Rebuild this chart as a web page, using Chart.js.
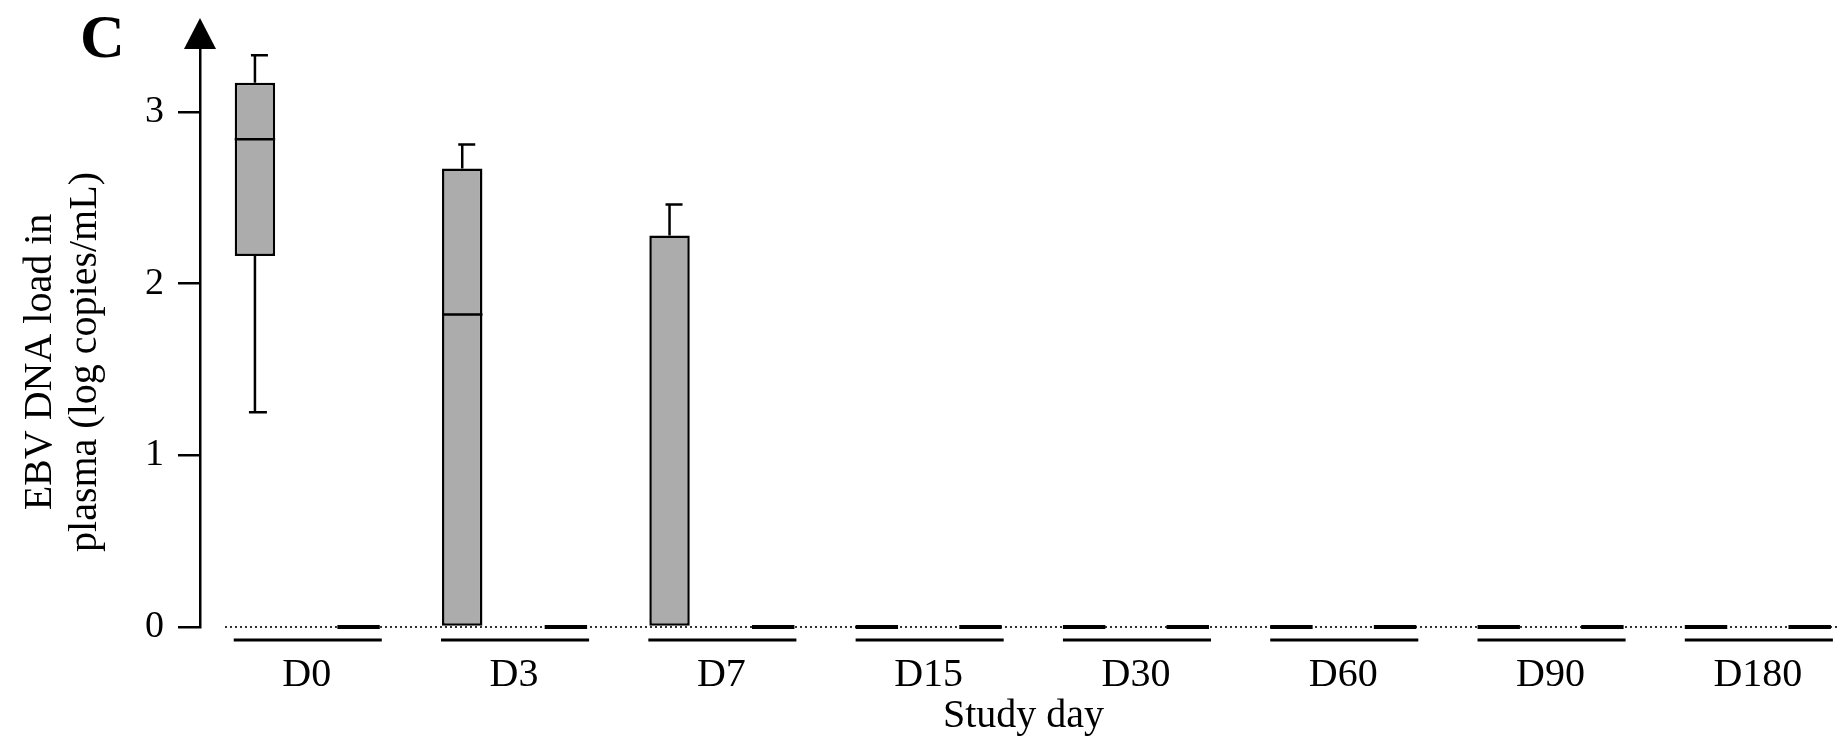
<!DOCTYPE html>
<html>
<head>
<meta charset="utf-8">
<script src="https://cdn.jsdelivr.net/npm/chart.js@4"></script>
<style>
  html, body { margin: 0; padding: 0; background: #fff; overflow: hidden; }
  #wrap { width: 1847px; height: 746px; position: relative; }
</style>
</head>
<body>
<div id="wrap"><canvas id="chart"></canvas></div>
<script>
const days = ['D0', 'D3', 'D7', 'D15', 'D30', 'D60', 'D90', 'D180'];

// left box of each pair
const g1Min    = [1.25, 0,    0,    0, 0, 0, 0, 0];
const g1Q1     = [2.16, 0,    0,    0, 0, 0, 0, 0];
const g1Median = [2.84, 1.82, 0,    0, 0, 0, 0, 0];
const g1Q3     = [3.17, 2.67, 2.28, 0, 0, 0, 0, 0];
const g1Max    = [3.33, 2.81, 2.46, 0, 0, 0, 0, 0];

// right box of each pair (all undetectable)
const g2Min    = [0, 0, 0, 0, 0, 0, 0, 0];
const g2Q1     = [0, 0, 0, 0, 0, 0, 0, 0];
const g2Median = [0, 0, 0, 0, 0, 0, 0, 0];
const g2Q3     = [0, 0, 0, 0, 0, 0, 0, 0];
const g2Max    = [0, 0, 0, 0, 0, 0, 0, 0];

const yTicks = [0, 1, 2, 3];

const serif = '"Liberation Serif", "Times New Roman", serif';
const boxFill = '#acacac';

function boxData(q1, q3) {
    return days.map((d, i) => ({ x: i, y: [q1[i], q3[i]] }));
}

// whiskers, medians, flat boxes, brackets, arrow and labels
const boxPlugin = {
    id: 'boxExtras',
    beforeDatasetsDraw(chart) {
        const ctx = chart.ctx;
        const area = chart.chartArea;
        const y0 = chart.scales.y.getPixelForValue(0);
        ctx.save();
        ctx.strokeStyle = '#333';
        ctx.lineWidth = 2;
        ctx.setLineDash([2, 3]);
        ctx.beginPath();
        ctx.moveTo(area.left + 25, y0);
        ctx.lineTo(area.right - 8, y0);
        ctx.stroke();
        ctx.restore();
    },
    afterDatasetsDraw(chart) {
        const ctx = chart.ctx;
        const yScale = chart.scales.y;
        const px = v => yScale.getPixelForValue(v);
        ctx.save();
        ctx.strokeStyle = '#000';
        ctx.lineCap = 'butt';

        chart.data.datasets.forEach((ds, di) => {
            const meta = chart.getDatasetMeta(di);
            const s = ds.stats;
            meta.data.forEach((bar, i) => {
                const cx = bar.x;
                const half = bar.width / 2;
                ctx.lineWidth = 2.5;
                // upper whisker
                if (s.max[i] > s.q3[i]) {
                    ctx.beginPath();
                    ctx.moveTo(cx, px(s.q3[i]));
                    ctx.lineTo(cx, px(s.max[i]));
                    ctx.moveTo(cx - 4, px(s.max[i]));
                    ctx.lineTo(cx + 13, px(s.max[i]));
                    ctx.stroke();
                }
                // lower whisker
                if (s.min[i] < s.q1[i]) {
                    ctx.beginPath();
                    ctx.moveTo(cx, px(s.q1[i]));
                    ctx.lineTo(cx, px(s.min[i]));
                    ctx.moveTo(cx - 6, px(s.min[i]));
                    ctx.lineTo(cx + 12, px(s.min[i]));
                    ctx.stroke();
                }
                if (s.q3[i] === s.q1[i]) {
                    // collapsed box
                    ctx.lineWidth = 4;
                    ctx.beginPath();
                    ctx.moveTo(cx - half - 1, px(s.q1[i]));
                    ctx.lineTo(cx + half + 1, px(s.q1[i]));
                    ctx.stroke();
                } else if (s.median[i] > s.q1[i]) {
                    ctx.beginPath();
                    ctx.moveTo(cx - half, px(s.median[i]));
                    ctx.lineTo(cx + half, px(s.median[i]));
                    ctx.stroke();
                }
            });
        });

        // group brackets under each study day
        const left = chart.getDatasetMeta(0).data;
        const right = chart.getDatasetMeta(1).data;
        const yb = px(0) + 13;
        ctx.lineWidth = 3;
        left.forEach((bar, i) => {
            ctx.beginPath();
            ctx.moveTo(bar.x - bar.width / 2 - 1, yb);
            ctx.lineTo(right[i].x + right[i].width / 2 + 3, yb);
            ctx.stroke();
        });
        ctx.restore();
    },
    afterDraw(chart) {
        const ctx = chart.ctx;
        const area = chart.chartArea;
        ctx.save();
        // arrow on the y axis
        ctx.fillStyle = '#000';
        ctx.beginPath();
        ctx.moveTo(area.left, area.top - 32);
        ctx.lineTo(area.left - 16, area.top - 1);
        ctx.lineTo(area.left + 16, area.top - 1);
        ctx.closePath();
        ctx.fill();

        // panel letter
        ctx.font = 'bold 62px ' + serif;
        ctx.textAlign = 'left';
        ctx.textBaseline = 'alphabetic';
        ctx.fillText('C', 80, 57);

        // y axis title, two lines
        ctx.font = '40px ' + serif;
        ctx.textAlign = 'center';
        ctx.textBaseline = 'middle';
        ctx.translate(0, 362);
        ctx.rotate(-Math.PI / 2);
        ctx.fillText('EBV DNA load in', 0, 40);
        ctx.fillText('plasma (log copies/mL)', 0, 85);
        ctx.restore();
    }
};

new Chart(document.getElementById('chart'), {
    type: 'bar',
    data: {
        datasets: [
            {
                label: 'Group 1',
                data: boxData(g1Q1, g1Q3),
                stats: { min: g1Min, q1: g1Q1, median: g1Median, q3: g1Q3, max: g1Max },
                backgroundColor: boxFill,
                borderColor: '#000',
                borderWidth: 2.5,
                borderSkipped: false,
                categoryPercentage: 1.0,
                barPercentage: 0.39
            },
            {
                label: 'Group 2',
                data: boxData(g2Q1, g2Q3),
                stats: { min: g2Min, q1: g2Q1, median: g2Median, q3: g2Q3, max: g2Max },
                backgroundColor: boxFill,
                borderColor: '#000',
                borderWidth: 2.5,
                borderSkipped: false,
                categoryPercentage: 1.0,
                barPercentage: 0.39
            }
        ]
    },
    options: {
        responsive: true,
        maintainAspectRatio: false,
        animation: false,
        layout: { padding: { top: 50, left: 0, right: 0, bottom: 0 } },
        plugins: {
            legend: { display: false },
            tooltip: { enabled: false }
        },
        scales: {
            x: {
                type: 'linear',
                offset: false,
                min: -0.515,
                max: 7.43,
                afterBuildTicks(scale) {
                    scale.ticks = days.map((d, i) => ({ value: i }));
                },
                afterFit(scale) {
                    scale.height = 119;
                },
                grid: { display: false, drawTicks: false, offset: false },
                border: { display: false },
                ticks: {
                    autoSkip: false,
                    maxRotation: 0,
                    padding: 24,
                    color: '#000',
                    font: { family: serif, size: 40 },
                    callback: v => days[v] ?? ''
                },
                title: {
                    display: true,
                    text: 'Study day',
                    color: '#000',
                    font: { family: serif, size: 40 },
                    padding: { top: 2, bottom: 6 }
                }
            },
            y: {
                min: 0,
                max: 3.36,
                afterBuildTicks(scale) {
                    scale.ticks = yTicks.map(v => ({ value: v }));
                },
                afterFit(scale) {
                    scale.width = 200;
                },
                grid: {
                    display: true,
                    drawOnChartArea: false,
                    drawTicks: true,
                    tickLength: 22,
                    lineWidth: 2.5,
                    color: '#000'
                },
                border: { display: true, color: '#000', width: 2.5 },
                ticks: {
                    padding: 14,
                    color: '#000',
                    font: { family: serif, size: 38 }
                }
            }
        }
    },
    plugins: [boxPlugin]
});
</script>
</body>
</html>
